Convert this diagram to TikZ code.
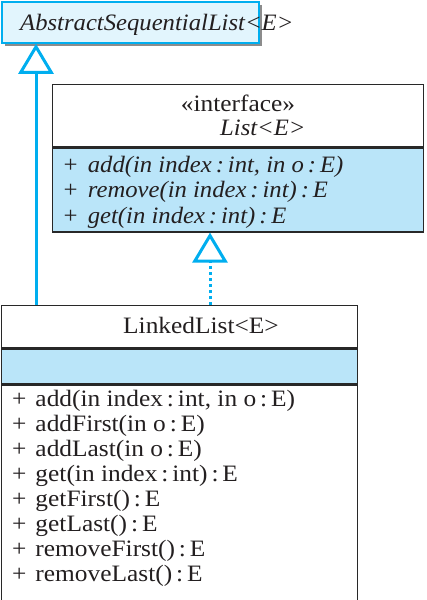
\documentclass[tikz,border=0pt]{standalone}
\usepackage{fontspec}
\setmainfont{Liberation Serif}[FakeStretch=1.08,
  ItalicFeatures={FakeStretch=1.05}]
\usetikzlibrary{arrows.meta, positioning, calc, shadows}
\definecolor{umlcyan}{RGB}{0,174,239}
\definecolor{umlfill}{RGB}{186,229,249}
\definecolor{umlpale}{RGB}{226,245,253}
\definecolor{umlline}{RGB}{40,40,40}
\definecolor{umltext}{RGB}{35,31,32}
\newcommand{\umlsize}{\fontsize{23.5}{26}\selectfont}
\newcommand{\opsign}{+\hspace{9pt}}
\tikzset{
  cls/.style={rectangle, draw=umlline, line width=1.3pt, inner sep=0pt,
              anchor=north west},
  hdr/.style={cls, fill=white},
  ops/.style={cls, fill=umlfill},
  absbox/.style={rectangle, draw=umlcyan, line width=1.8pt, fill=umlpale,
                 inner sep=0pt, anchor=north west,
                 drop shadow={shadow xshift=3pt, shadow yshift=-3pt,
                              fill=black!45, opacity=1}},
  lbl/.style={anchor=base west, inner sep=0pt, font=\umlsize, text=umltext},
  gen/.style={-{Triangle[open, length=30pt, width=35pt, fill=white]},
              draw=umlcyan, line width=3pt},
  real/.style={gen, dash pattern=on 3pt off 3pt}
}
\begin{document}
\begin{tikzpicture}[x=1pt, y=1pt]
  \useasboundingbox (0,0) rectangle (426,-600);

  %% AbstractSequentialList<E>
  \node[absbox, minimum width=257pt, minimum height=41pt] (abs) at (1,-1) {};
  \node[lbl, font=\umlsize\itshape] (absname) at (20,-30)
       {AbstractSequentialList<E>};

  %% interface List<E>
  \node[hdr, minimum width=371pt, minimum height=62pt] (ifhead) at (52,-84) {};
  \node[ops, minimum width=371pt, minimum height=84pt] (ifops)
       at (ifhead.south west) {};
  \node[lbl, anchor=base] (stereo) at (238,-111) {«interface»};
  \node[lbl, font=\umlsize\itshape] (ifname) at (220,-135) {List<E>};
  \foreach \op [count=\i] in {{add(in index\,:\,int, in o\,:\,E)},
                              remove(in index\,:\,int)\,:\,E,
                              get(in index\,:\,int)\,:\,E}
    \node[lbl, font=\umlsize\itshape] (ifop\i) at (62,{-146.5-25.5*\i})
         {\opsign\op};

  %% class LinkedList<E>
  \node[hdr, minimum width=356pt, minimum height=42pt] (llhead) at (1,-305) {};
  \node[ops, minimum width=356pt, minimum height=35pt] (llattr)
       at (llhead.south west) {};
  \node[hdr, minimum width=356pt, minimum height=216pt] (llops)
       at (llattr.south west) {};
  \node[lbl] (llname) at (123,-333) {LinkedList<E>};
  \foreach \op [count=\i] in {{add(in index\,:\,int, in o\,:\,E)},
                              addFirst(in o\,:\,E),
                              addLast(in o\,:\,E),
                              get(in index\,:\,int)\,:\,E,
                              getFirst()\,:\,E,
                              getLast()\,:\,E,
                              removeFirst()\,:\,E,
                              removeLast()\,:\,E}
    \node[lbl] (llop\i) at (12,{-380.9-25.1*\i}) {\opsign\op};

  %% generalisation and realisation
  \coordinate (gentail) at ($(llhead.north west)+(35,0)$);
  \draw[gen] (gentail) -- (gentail |- abs.south);
  \coordinate (realtail) at ($(llhead.north west)+(209,0)$);
  \draw[real] (realtail) -- (realtail |- ifops.south);

\end{tikzpicture}
\end{document}
